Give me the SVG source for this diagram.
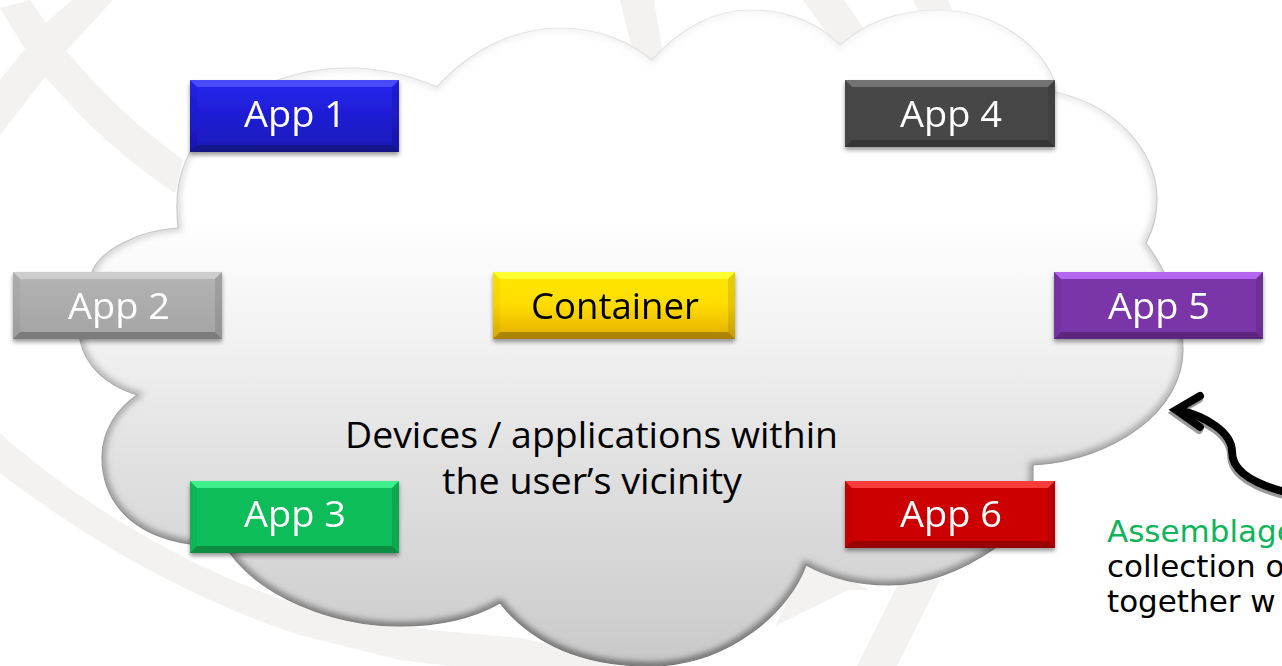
<svg xmlns="http://www.w3.org/2000/svg" xmlns:xlink="http://www.w3.org/1999/xlink" width="1282" height="666" viewBox="0 0 1282 666">
<style>
.wm{fill:#f3f2f0}
.lbl{font-family:"Open Sans","Liberation Sans",sans-serif;font-size:37px;text-anchor:middle}
.w{fill:#fff}.k{fill:#000}
.note{font-family:"DejaVu Sans",sans-serif;font-size:31px}
.lo{fill:#000;fill-opacity:.25}
.sl{fill:#000;fill-opacity:.04}
.sr{fill:#000;fill-opacity:.1}
.box{filter:url(#boxShadow)}
#app1 .hi{fill:#4a4cf8}
#app2 .hi{fill:#cdcdcd}
#container .hi{fill:#ffff33}
#app3 .hi{fill:#3df08c}
#app4 .hi{fill:#727272}
#app5 .hi{fill:#b366ee}
#app6 .hi{fill:#f83a3a}
</style>
<defs>
<linearGradient id="cloudFill" x1="0" y1="0" x2="0" y2="1"><stop offset="0" stop-color="#fff"/><stop offset=".32" stop-color="#fff"/><stop offset=".5" stop-color="#f2f2f2"/><stop offset=".67" stop-color="#e2e2e2"/><stop offset=".9" stop-color="#d2d2d2"/><stop offset="1" stop-color="#c8c8c8"/></linearGradient>
<linearGradient id="cloudEdge" x1="0" y1="0" x2="0" y2="1"><stop offset="0" stop-color="#e8e8e8"/><stop offset=".4" stop-color="#c0c0c0"/><stop offset="1" stop-color="#777"/></linearGradient>
<linearGradient id="cloudGlow" x1="0" y1="0" x2="0" y2="1"><stop offset="0" stop-color="#bbb" stop-opacity=".15"/><stop offset=".4" stop-color="#999" stop-opacity=".5"/><stop offset="1" stop-color="#555" stop-opacity=".9"/></linearGradient>
<linearGradient id="gBlue" x1="0" y1="0" x2="0" y2="1"><stop offset="0" stop-color="#2424f0"/><stop offset="1" stop-color="#1a18b8"/></linearGradient>
<linearGradient id="gYellow" x1="0" y1="0" x2="0" y2="1"><stop offset="0" stop-color="#ffe800"/><stop offset=".5" stop-color="#ffdc00"/><stop offset="1" stop-color="#e2ac00"/></linearGradient>
<linearGradient id="gGray" x1="0" y1="0" x2="0" y2="1"><stop offset="0" stop-color="#b4b4b4"/><stop offset="1" stop-color="#a4a4a4"/></linearGradient>
<filter id="boxShadow" x="-10%" y="-20%" width="120%" height="150%"><feDropShadow dx="0" dy="3" stdDeviation="2" flood-color="#000" flood-opacity=".4"/></filter>
<filter id="arrowShadow" x="-10%" y="-10%" width="120%" height="130%"><feDropShadow dx="-1" dy="3" stdDeviation=".6" flood-color="#888" flood-opacity=".85"/></filter>
<filter id="blur3" x="-5%" y="-5%" width="110%" height="110%"><feGaussianBlur stdDeviation="3"/></filter>
<path id="cloudPath" d="M437,87C470,50 515,28 560,28C600,28 632,43 652,60C680,28 715,10 750,10C790,10 820,25 840,45C865,22 900,10 938,10C995,10 1040,45 1054,80L1055,92C1115,105 1157,150 1157,200C1157,215 1153,230 1146,243C1170,275 1183,315 1183,350C1183,410 1115,460 1033,465L1033,490C1030,520 1015,540 995,548C960,572 925,585 889,585C860,585 830,578 806,565C790,610 730,666 650,666C570,666 525,635 500,603C470,620 435,626 400,626C330,626 260,595 230,553L190,544C130,535 102,500 102,457C102,430 118,408 137,395C105,385 85,365 80,340C76,320 82,295 92,272C100,250 140,230 178,228C175,195 178,175 190,152C205,115 240,92 278,80C300,72 325,68 347,68C380,68 410,75 437,87Z"/>
<clipPath id="cloudClip"><use xlink:href="#cloudPath"/></clipPath>
</defs>

<rect width="1282" height="666" fill="#fff"/>
<g id="background">
<path class="wm" d="M0,8L30,0L46,23L72,0H113L66,51C78,64 88,76 100,88C125,115 150,135 183,160L175,193C140,170 110,145 80,115L45,77L0,135V80L25,49Z"/>
<path class="wm" d="M0,433C80,505 200,575 300,605L430,630L520,638L650,666H450L400,660L300,635C190,600 80,535 0,473Z"/>
<path class="wm" d="M775,626L848,590L870,590L808,560Z"/>
<path class="wm" d="M900,580H940L897,666H857Z"/>
<path class="wm" d="M620,0H654L662,48L652,62L632,50Z"/>
<path class="wm" d="M803,0H844L872,40L838,48Z"/>
<path class="wm" d="M913,0H948L954,14H920Z"/>
</g>

<g id="cloud">
<use xlink:href="#cloudPath" fill="url(#cloudFill)"/>
<g clip-path="url(#cloudClip)"><use xlink:href="#cloudPath" fill="none" stroke="url(#cloudGlow)" stroke-width="7" filter="url(#blur3)"/></g>
<use xlink:href="#cloudPath" fill="none" stroke="url(#cloudEdge)" stroke-width="1.2"/>
<text class="lbl k" x="591.500" y="448" textLength="493" lengthAdjust="spacingAndGlyphs">Devices / applications within</text>
<text class="lbl k" x="592" y="494" textLength="300" lengthAdjust="spacingAndGlyphs">the user’s vicinity</text>
</g>

<g id="connectors" filter="url(#arrowShadow)" fill="none" stroke="#000" stroke-width="8">
<path d="M1285,492C1262,486 1232,475 1232,452C1232,432 1205,416 1178,410"/>
<path d="M1200,396L1176,410L1200,427" stroke-linecap="round" stroke-miterlimit="6"/>
</g>

<g id="app1" class="box"><rect x="190" y="80" width="209" height="72" fill="url(#gBlue)"/>
<path class="hi" d="M190,80H399L392,87H197Z"/><path class="lo" d="M190,152H399L392,145H197Z"/><path class="sl" d="M190,80L197,87V145L190,152Z"/><path class="sr" d="M399,80L392,87V145L399,152Z"/>
<text class="lbl w" x="295" y="127" textLength="102" lengthAdjust="spacingAndGlyphs">App 1</text></g>

<g id="app2" class="box"><rect x="13" y="272" width="209" height="67" fill="url(#gGray)"/>
<path class="hi" d="M13,272H222L215,279H20Z"/><path class="lo" d="M13,339H222L215,332H20Z"/><path class="sl" d="M13,272L20,279V332L13,339Z"/><path class="sr" d="M222,272L215,279V332L222,339Z"/>
<text class="lbl w" x="119" y="319" textLength="102" lengthAdjust="spacingAndGlyphs">App 2</text></g>

<g id="container" class="box"><rect x="493" y="272" width="242" height="67" fill="url(#gYellow)"/>
<path class="hi" d="M493,272H735L728,279H500Z"/><path class="lo" d="M493,339H735L728,332H500Z"/><path class="sl" d="M493,272L500,279V332L493,339Z"/><path class="sr" d="M735,272L728,279V332L735,339Z"/>
<text class="lbl k" x="615" y="319" textLength="168" lengthAdjust="spacingAndGlyphs">Container</text></g>

<g id="app3" class="box"><rect x="190" y="481" width="209" height="72" fill="#0bbd5a"/>
<path class="hi" d="M190,481H399L392,488H197Z"/><path class="lo" d="M190,553H399L392,546H197Z"/><path class="sl" d="M190,481L197,488V546L190,553Z"/><path class="sr" d="M399,481L392,488V546L399,553Z"/>
<text class="lbl w" x="295" y="527" textLength="102" lengthAdjust="spacingAndGlyphs">App 3</text></g>

<g id="app4" class="box"><rect x="845" y="80" width="210" height="67" fill="#474747"/>
<path class="hi" d="M845,80H1055L1048,87H852Z"/><path class="lo" d="M845,147H1055L1048,140H852Z"/><path class="sl" d="M845,80L852,87V140L845,147Z"/><path class="sr" d="M1055,80L1048,87V140L1055,147Z"/>
<text class="lbl w" x="951" y="127" textLength="102" lengthAdjust="spacingAndGlyphs">App 4</text></g>

<g id="app5" class="box"><rect x="1054" y="272" width="209" height="67" fill="#7a35a8"/>
<path class="hi" d="M1054,272H1263L1256,279H1061Z"/><path class="lo" d="M1054,339H1263L1256,332H1061Z"/><path class="sl" d="M1054,272L1061,279V332L1054,339Z"/><path class="sr" d="M1263,272L1256,279V332L1263,339Z"/>
<text class="lbl w" x="1159" y="319" textLength="102" lengthAdjust="spacingAndGlyphs">App 5</text></g>

<g id="app6" class="box"><rect x="845" y="481" width="210" height="67" fill="#cc0404"/>
<path class="hi" d="M845,481H1055L1048,488H852Z"/><path class="lo" d="M845,548H1055L1048,541H852Z"/><path class="sl" d="M845,481L852,488V541L845,548Z"/><path class="sr" d="M1055,481L1048,488V541L1055,548Z"/>
<text class="lbl w" x="951" y="527" textLength="102" lengthAdjust="spacingAndGlyphs">App 6</text></g>

<g id="note">
<text class="note" x="1107" y="542" fill="#0fb55a">Assemblage</text>
<text class="note" x="1107" y="577" fill="#000">collection o</text>
<text class="note" x="1107" y="612" fill="#000">together w</text>
</g>
</svg>
